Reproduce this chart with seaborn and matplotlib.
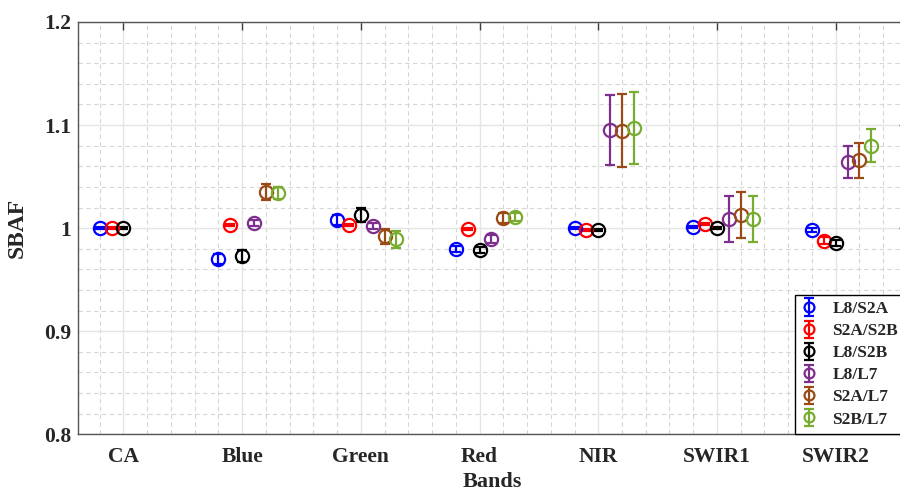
import numpy as np
import pandas as pd
import matplotlib
matplotlib.use("Agg")
import matplotlib.pyplot as plt
from matplotlib.ticker import MultipleLocator, FixedLocator
import seaborn as sns

# ---------------- data ----------------
bands = ["CA", "Blue", "Green", "Red", "NIR", "SWIR1", "SWIR2"]
series = ["L8/S2A", "S2A/S2B", "L8/S2B", "L8/L7", "S2A/L7", "S2B/L7"]
nan = np.nan
l8_s2a = [1.000, 0.970, 1.008, 0.980, 1.000, 1.001, 0.998]
l8_s2a_err = [0.001, 0.005, 0.005, 0.003, 0.001, 0.001, 0.002]
s2a_s2b = [1.000, 1.003, 1.003, 0.999, 0.9985, 1.004, 0.988]
s2a_s2b_err = [0.001, 0.001, 0.001, 0.001, 0.001, 0.001, 0.003]
l8_s2b = [1.000, 0.973, 1.013, 0.9785, 0.998, 1.000, 0.9857]
l8_s2b_err = [0.001, 0.006, 0.007, 0.003, 0.001, 0.001, 0.003]
l8_l7 = [nan, 1.005, 1.0017, 0.9895, 1.0948, 1.0088, 1.0645]
l8_l7_err = [nan, 0.003, 0.003, 0.004, 0.034, 0.022, 0.0155]
s2a_l7 = [nan, 1.035, 0.992, 1.010, 1.0947, 1.0126, 1.0658]
s2a_l7_err = [nan, 0.008, 0.007, 0.005, 0.035, 0.022, 0.0168]
s2b_l7 = [nan, 1.034, 0.989, 1.011, 1.097, 1.0088, 1.080]
s2b_l7_err = [nan, 0.006, 0.008, 0.004, 0.035, 0.022, 0.016]
yticks = [0.8, 0.9, 1.0, 1.1, 1.2]
ytick_labels = ["0.8", "0.9", "1", "1.1", "1.2"]

values = [l8_s2a, s2a_s2b, l8_s2b, l8_l7, s2a_l7, s2b_l7]
errors = [l8_s2a_err, s2a_s2b_err, l8_s2b_err, l8_l7_err, s2a_l7_err, s2b_l7_err]

rows = []
for s, v, e in zip(series, values, errors):
    for b, vv, ee in zip(bands, v, e):
        rows.append({"band": b, "series": s, "sbaf": vv, "err": ee})
df = pd.DataFrame(rows)

# ---------------- style ----------------
sns.set_style("white")
plt.rcParams["font.family"] = ["Liberation Serif", "DejaVu Serif"]
plt.rcParams["font.weight"] = "bold"

palette = dict(zip(series, ["#0000FF", "#FF0000", "#000000", "#7E2F8E", "#9A4A14", "#77AC30"]))
offsets = dict(zip(series, [-0.2, -0.1, 0.0, 0.1, 0.2, 0.3]))

fig = plt.figure(figsize=(9.0, 4.91), dpi=100)
ax = fig.add_axes([78.3 / 900, 1 - 434.3 / 491, (906.9 - 78.3) / 900, (434.3 - 22) / 491])

band_pos = {b: i + 1 for i, b in enumerate(bands)}
handles = []
for s in series:
    d = df[df["series"] == s].dropna()
    x = d["band"].map(band_pos) + offsets[s]
    h = ax.errorbar(x, d["sbaf"], yerr=d["err"], fmt="o", color=palette[s],
                    mfc="none", mec=palette[s], ms=9.5, mew=1.6,
                    elinewidth=1.6, capsize=3.5, capthick=1.6, label=s, zorder=3)
    handles.append(h)

ax.set_xlim(0.62, 7.6)
ax.set_ylim(0.8, 1.2)
ax.xaxis.set_major_locator(FixedLocator(list(band_pos.values())))
ax.set_xticklabels(bands)
ax.xaxis.set_minor_locator(MultipleLocator(0.2))
ax.set_yticks(yticks)
ax.set_yticklabels(ytick_labels)
ax.yaxis.set_minor_locator(MultipleLocator(0.02))

ax.grid(which="major", color="#e4e4e4", linestyle="-", linewidth=1.0, zorder=0)
ax.grid(which="minor", color="#d6d6d6", linestyle=(0, (4, 3)), linewidth=0.8, zorder=0)
ax.set_axisbelow(True)

ax.tick_params(which="major", direction="in", length=6, width=1, color="#404040",
               top=True, right=True, labelsize=15.5, labelcolor="#262626")
ax.tick_params(which="minor", length=0)
ax.tick_params(axis="x", pad=9)
ax.tick_params(axis="y", pad=5)
for sp in ax.spines.values():
    sp.set_color("#555555")
    sp.set_linewidth(1.0)

ax.set_xlabel("Bands", fontsize=16, fontweight="bold", color="#262626", labelpad=4)
ax.set_ylabel("SBAF", fontsize=17, fontweight="bold", color="#262626", labelpad=12)

leg = fig.legend(handles=handles, labels=series, loc="upper left",
                 bbox_to_anchor=(795 / 900, 1 - 295 / 491), bbox_transform=fig.transFigure,
                 borderaxespad=0, frameon=True, fancybox=False, framealpha=1,
                 edgecolor="#000000", prop={"size": 12.5, "weight": "bold"},
                 handlelength=0.9, handletextpad=0.9, labelspacing=0.34,
                 borderpad=0.35, markerscale=0.75)
leg.get_frame().set_linewidth(1.0)

fig.savefig("out.png", dpi=100)
